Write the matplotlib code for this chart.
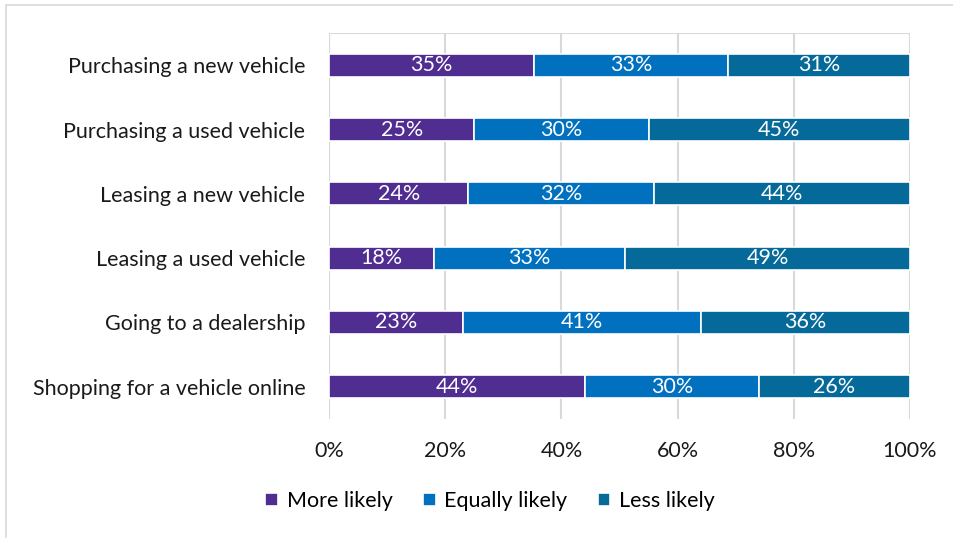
import matplotlib.pyplot as plt
import numpy as np
from matplotlib.patches import Rectangle

plt.rcParams['font.family'] = ['Lato', 'DejaVu Sans']

categories = ['Purchasing a new vehicle', 'Purchasing a used vehicle',
              'Leasing a new vehicle', 'Leasing a used vehicle',
              'Going to a dealership', 'Shopping for a vehicle online']
more_likely = [35, 25, 24, 18, 23, 44]
equally_likely = [33, 30, 32, 33, 41, 30]
less_likely = [31, 45, 44, 49, 36, 26]
series_names = ['More likely', 'Equally likely', 'Less likely']
colors = ['#4F2D91', '#0070BF', '#05699A']
x_ticks = [0, 20, 40, 60, 80, 100]
fs = 15.5

fig = plt.figure(figsize=(9.54, 5.38), dpi=100)
ax = fig.add_axes([329 / 954, 1 - 419 / 538, 581 / 954, 386 / 538])

# outer frame of the chart area
fig.patches.append(Rectangle((6 / 954, -0.1), 1.1, 1 - 5 / 538 + 0.1,
                             transform=fig.transFigure, fill=False,
                             edgecolor='#D9D9D9', linewidth=1.2))

data = np.array([more_likely, equally_likely, less_likely], dtype=float)
shares = data / data.sum(axis=0) * 100
y = np.arange(len(categories))
left = np.zeros(len(categories))
for i, name in enumerate(series_names):
    bars = ax.barh(y, shares[i], left=left, height=0.36, color=colors[i],
                   edgecolor='white', linewidth=1.2, label=name, zorder=3)
    for b, v in zip(bars, data[i]):
        ax.text(b.get_x() + b.get_width() / 2, b.get_y() + b.get_height() / 2,
                f'{v:.0f}%', ha='center', va='center', color='white',
                fontsize=fs, zorder=4)
    left += shares[i]

ax.set_ylim(len(categories) - 0.5, -0.5)
ax.set_xlim(0, 100)
ax.set_yticks(y)
ax.set_yticklabels(categories, fontsize=fs, color='#1A1A1A')
ax.set_xticks(x_ticks)
ax.set_xticklabels([f'{t}%' for t in x_ticks], fontsize=fs, color='#1A1A1A')
ax.tick_params(length=0)
ax.tick_params(axis='y', pad=17)
ax.tick_params(axis='x', pad=16)
ax.grid(axis='x', color='#D9D9D9', linewidth=1.5, zorder=0)
for s in ax.spines.values():
    s.set_visible(False)
ax.axhline(-0.5, color='#D9D9D9', linewidth=1.5, zorder=0)
ax.axvline(0, color='#D9D9D9', linewidth=1.5, zorder=0)

fig.legend(loc='center', bbox_to_anchor=(490 / 954, 1 - 501 / 538), ncol=3,
           frameon=False, fontsize=fs, handlelength=0.6, handleheight=0.6,
           handletextpad=0.4, columnspacing=1.4)

fig.savefig('out.png', dpi=100)
